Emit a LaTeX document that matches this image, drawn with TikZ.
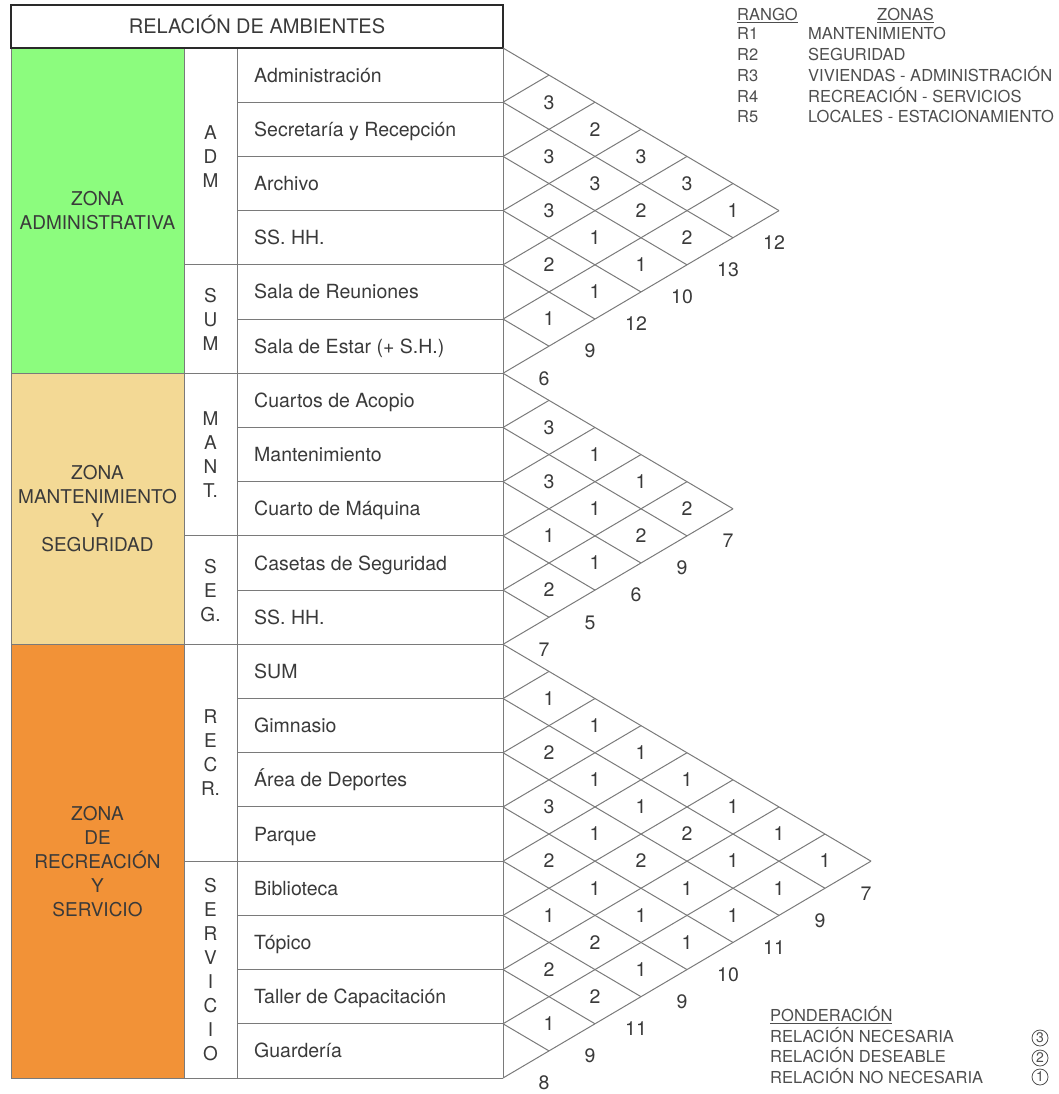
\documentclass[tikz,border=0pt]{standalone}
\usepackage{fontspec}
\setmainfont{TeX Gyre Heros}
\usepackage{tikz}
\usetikzlibrary{positioning}
\definecolor{zonegreen}{HTML}{8CFC7E}
\definecolor{zonetan}{HTML}{F3D995}
\definecolor{zoneorange}{HTML}{F29237}
\definecolor{gridgray}{HTML}{7A7A7A}
\definecolor{titleink}{HTML}{2A2A2A}
\definecolor{textgray}{HTML}{3A3A3A}
\definecolor{keygray}{HTML}{4E4E4E}
\newcommand{\rowh}{54.21}
\newcommand{\bigtxt}{\fontsize{19.5}{24}\selectfont}
\newcommand{\zonetxt}{\fontsize{19}{24}\selectfont}
\newcommand{\smalltxt}{\fontsize{16.5}{21}\selectfont}
\tikzset{
  gridline/.style={draw=gridgray,line width=1pt},
  titlebox/.style={draw=titleink,line width=1.5pt,fill=white,
                   minimum width=492pt,minimum height=43pt,inner sep=0pt,
                   font=\fontsize{20}{24}\selectfont,text=textgray,
                   text height=14pt,text depth=0pt},
  zonebox/.style={draw=gridgray,line width=1pt,minimum width=173pt,
                  inner sep=0pt,align=center,font=\zonetxt,text=textgray},
  sublabel/.style={align=center,font=\zonetxt,text=textgray,inner sep=0pt},
  roomlabel/.style={anchor=west,font=\bigtxt,text=textgray,inner sep=0pt,
                    text height=14pt,text depth=0pt},
  cellnum/.style={font=\bigtxt,text=textgray,inner sep=0pt,
                  text height=13.6pt,text depth=0pt},
  sumnum/.style={cellnum},
  keytext/.style={anchor=west,font=\smalltxt,text=keygray,inner sep=0pt,
                  text height=11.8pt,text depth=0pt},
  keycirc/.style={circle,draw=keygray,line width=0.8pt,minimum size=16pt,
                  inner sep=0pt,font=\fontsize{14}{16}\selectfont,text=keygray}
}
% diamond grid of one zone: #1 top, #2 rows
\newcommand{\relgrid}[2]{%
  \pgfmathtruncatemacro{\nlast}{#2-1}
  \foreach \k in {0,...,\nlast}
    \draw[gridline] (503,{#1+\k*\rowh}) -- ++({46*(#2-\k)},{\rowh/2*(#2-\k)});
  \foreach \k in {1,...,#2}
    \draw[gridline] (503,{#1+\k*\rowh}) -- ++({46*\k},{-\rowh/2*\k});
}
% values in the diamonds: #1 prefix, #2 top, #3 i/j/value list
\newcommand{\relcells}[3]{%
  \foreach \i/\j/\v in {#3}
    \node[cellnum] (#1-\i-\j) at ({503+46*(\j-\i)},{#2+((\i+\j)/2+0.5)*\rowh}) {\v};
}
% totals along the lower edge: #1 prefix, #2 top, #3 rows, #4 i/total list
\newcommand{\relsums}[4]{%
  \foreach \i/\s in {#4}
    \node[sumnum] (#1-sum\i) at ({503+46*(#3-\i)-5},{#2+((\i+#3)/2+0.5)*\rowh+5}) {\s};
}

\begin{document}
\begin{tikzpicture}[x=1pt,y=-1pt]
  \useasboundingbox (0,0) rectangle (1059,1094);

  % zones
  \node[zonebox,fill=zonegreen,minimum height=325.26pt] (zadm) at (97.5,210.63) {ZONA\\ADMINISTRATIVA};
  \node[zonebox,fill=zonetan,minimum height=271.05pt] (zmant) at (97.5,508.79) {ZONA\\MANTENIMIENTO\\Y\\SEGURIDAD};
  \node[zonebox,fill=zoneorange,minimum height=433.69pt] (zrec) at (97.5,861.15) {ZONA\\DE\\RECREACIÓN\\Y\\SERVICIO};

  % table lines
  \draw[gridline] (184,48) -- (184,1078);
  \draw[gridline] (237,48) -- (237,1078);
  \draw[gridline] (503,48) -- (503,1078);
  \draw[gridline] (184,1078) -- (503,1078);
  \foreach \r in {1,...,18}
    \draw[gridline] (237,{48+\r*\rowh}) -- (503,{48+\r*\rowh});
  \foreach \r in {4,6,9,11,15}
    \draw[gridline] (184,{48+\r*\rowh}) -- (237,{48+\r*\rowh});

  \node[titlebox] (title) at (257,26.5) {RELACIÓN DE AMBIENTES};

  % sub groups
  \node[sublabel] (sadm) at (210.5,156.4) {A\\D\\M};
  \node[sublabel] (ssum) at (210.5,319.1) {S\\U\\M};
  \node[sublabel] (smant) at (210.5,454.6) {M\\A\\N\\T.};
  \node[sublabel] (sseg) at (210.5,590.1) {S\\E\\G.};
  \node[sublabel] (srecr) at (210.5,752.7) {R\\E\\C\\R.};
  \node[sublabel] (sserv) at (210.5,969.6) {S\\E\\R\\V\\I\\C\\I\\O};

  % rooms
  \foreach \name [count=\r from 0] in {Administración,Secretaría y Recepción,Archivo,SS. HH.,
      Sala de Reuniones,Sala de Estar (+ S.H.),Cuartos de Acopio,Mantenimiento,
      Cuarto de Máquina,Casetas de Seguridad,SS. HH.,SUM,Gimnasio,Área de Deportes,
      Parque,Biblioteca,Tópico,Taller de Capacitación,Guardería}
    \node[roomlabel] (room\r) at (254,{48+(\r+0.5)*\rowh}) {\name};

  % relation grids
  \relgrid{48}{6}
  \relgrid{373.26}{5}
  \relgrid{644.31}{8}

  \relcells{a}{48}{0/1/3,1/2/3,2/3/3,3/4/2,4/5/1,0/2/2,1/3/3,2/4/1,3/5/1,
    0/3/3,1/4/2,2/5/1,0/4/3,1/5/2,0/5/1}
  \relsums{a}{48}{6}{0/12,1/13,2/10,3/12,4/9,5/6}

  \relcells{b}{373.26}{0/1/3,1/2/3,2/3/1,3/4/2,0/2/1,1/3/1,2/4/1,0/3/1,1/4/2,0/4/2}
  \relsums{b}{373.26}{5}{0/7,1/9,2/6,3/5,4/7}

  \relcells{c}{644.31}{0/1/1,1/2/2,2/3/3,3/4/2,4/5/1,5/6/2,6/7/1,
    0/2/1,1/3/1,2/4/1,3/5/1,4/6/2,5/7/2,
    0/3/1,1/4/1,2/5/2,3/6/1,4/7/1,
    0/4/1,1/5/2,2/6/1,3/7/1,
    0/5/1,1/6/1,2/7/1,
    0/6/1,1/7/1,
    0/7/1}
  \relsums{c}{644.31}{8}{0/7,1/9,2/11,3/10,4/9,5/11,6/9,7/8}

  % key of ranges
  \node[keytext] (rango) at (737,15) {\underline{RANGO}};
  \node[keytext] (zonas) at (877,15) {\underline{ZONAS}};
  \foreach \rg/\zn [count=\c] in {R1/MANTENIMIENTO,R2/SEGURIDAD,
      R3/VIVIENDAS - ADMINISTRACIÓN,R4/RECREACIÓN - SERVICIOS,
      R5/LOCALES - ESTACIONAMIENTO} {
    \node[keytext] (rg\c) at (737,{13+\c*20.8}) {\rg};
    \node[keytext] (zn\c) at (808,{13+\c*20.8}) {\zn};
  }

  % key of weights
  \node[keytext] (pond) at (770,1016) {\underline{PONDERACIÓN}};
  \node[keytext] (pnec) at (770,1037) {RELACIÓN NECESARIA};
  \node[keytext] (pdes) at (770,1057) {RELACIÓN DESEABLE};
  \node[keytext] (pno) at (770,1078) {RELACIÓN NO NECESARIA};
  \node[keycirc] (cnec) at (1040,1038) {3};
  \node[keycirc] (cdes) at (1040,1058) {2};
  \node[keycirc] (cno) at (1040,1077) {1};
\end{tikzpicture}
\end{document}
